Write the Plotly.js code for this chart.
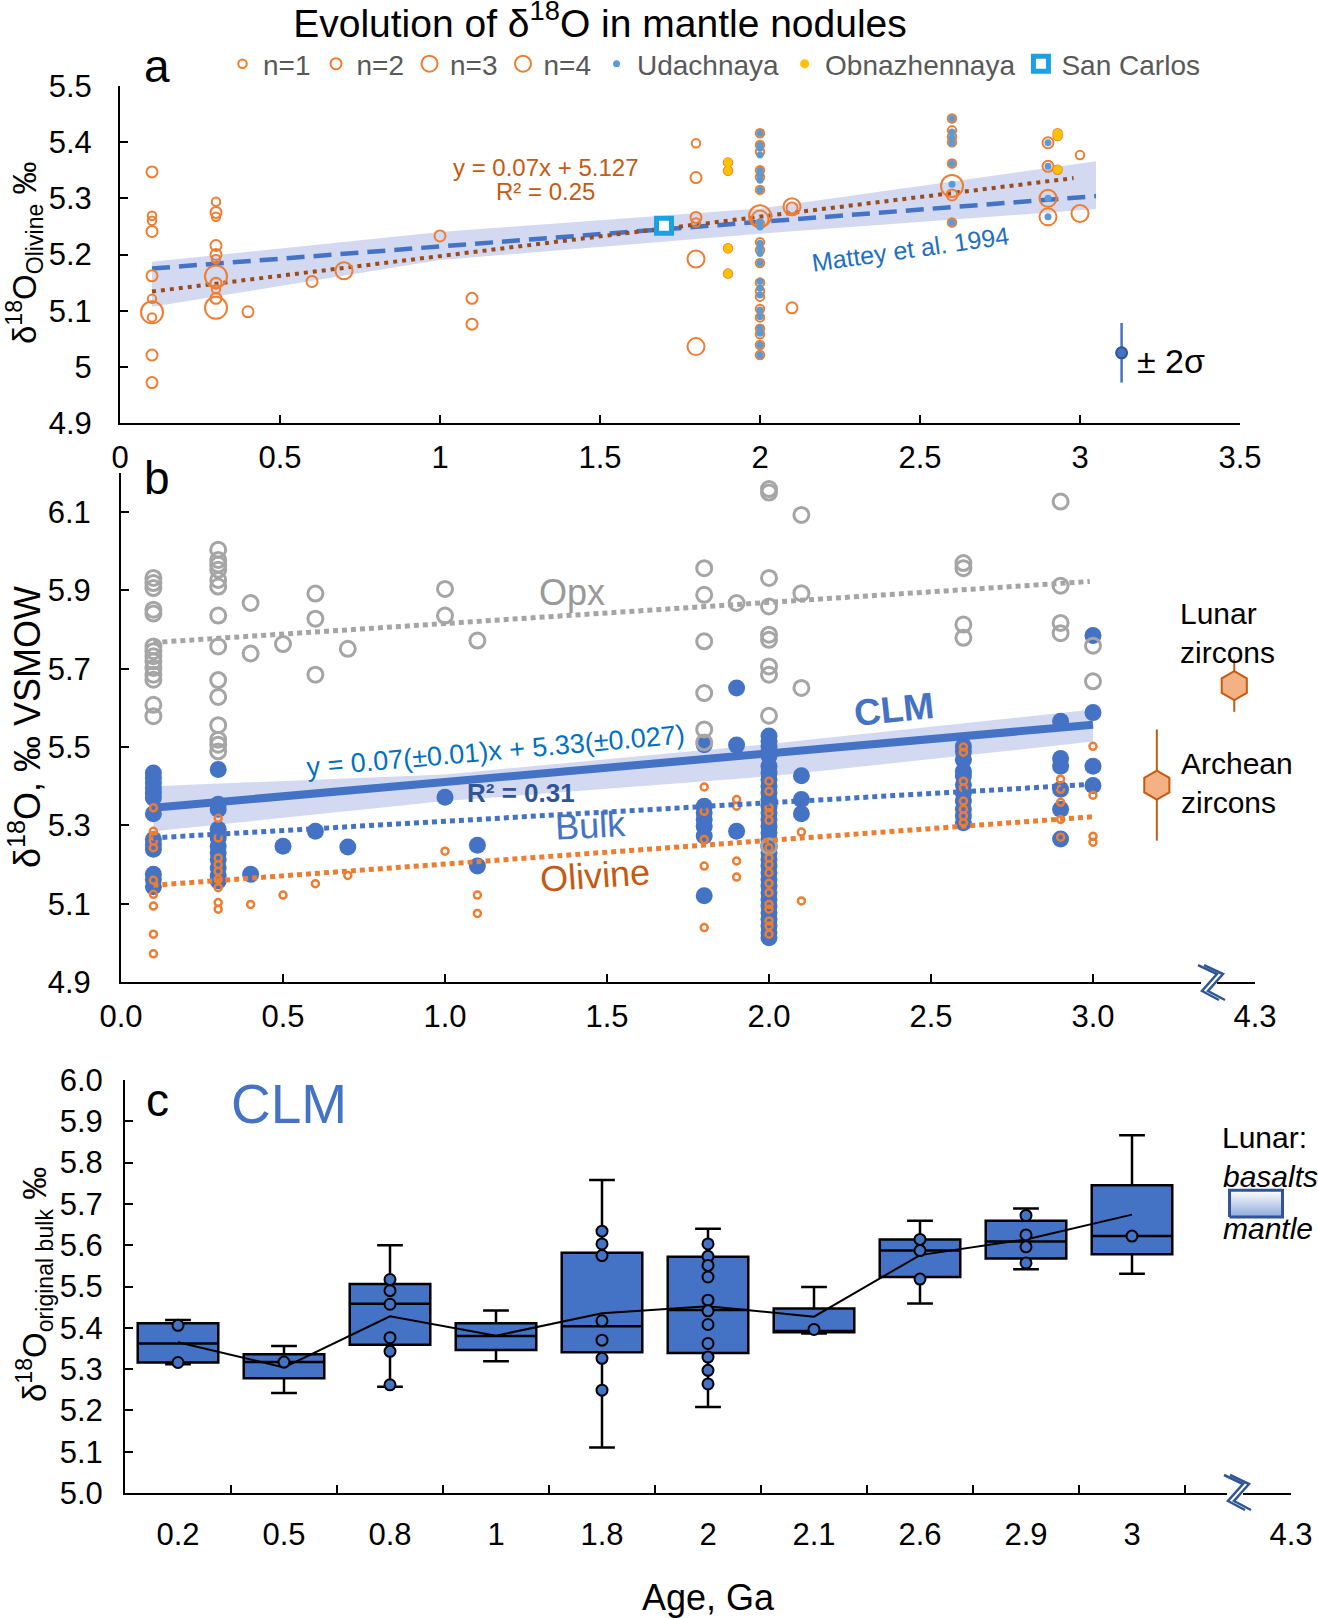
<!DOCTYPE html>
<html><head><meta charset="utf-8">
<script src="https://cdn.plot.ly/plotly-3.0.1.min.js"></script>
<style>html,body{margin:0;padding:0;background:#fff}</style>
</head><body><div id="chart" style="width:1318px;height:1618px"></div>
<script>
// ---------------- DATA ----------------
// Panel a: olivine d18O vs age (Ga); marker size by number of analyses n
const olivAAges = [0.1,0.3,0.4,0.6,0.7,1.0,1.1,1.8,1.9,2.0,2.1,2.6,2.9,2.93,3.0];
const olivAValues = [
  [5.347,5.269,5.260,5.241,5.162,5.121,5.097,5.088,5.021,4.972],
  [5.294,5.275,5.267,5.216,5.200,5.192,5.161,5.149,5.138,5.122,5.105],
  [5.098],[5.152],[5.171],[5.233],[5.122,5.076],
  [5.398,5.337,5.266,5.257,5.192,5.036],
  [5.364,5.349,5.211,5.166],
  [5.416,5.395,5.383,5.350,5.338,5.315,5.268,5.263,5.255,5.222,5.208,5.185,5.150,5.135,5.125,5.103,5.088,5.068,5.058,5.039,5.021],
  [5.285,5.283,5.105],
  [5.442,5.421,5.410,5.400,5.362,5.322,5.306,5.257],
  [5.399,5.357,5.300,5.267],
  [5.416,5.411,5.351],
  [5.377,5.273]
];
const olivACounts = [
  [2,1,1,2,2,1,4,1,2,2],
  [1,2,1,2,2,1,4,2,1,2,4],
  [2],[2],[3],[2],[2,2],
  [1,2,2,1,3,3],
  [1,1,1,1],
  [1,1,1,1,1,1,4,3,1,1,1,1,1,1,1,1,1,1,1,1,1],
  [3,2,2],
  [1,1,1,1,1,4,2,1],
  [2,2,3,3],
  [1,1,1],
  [1,3]
];
const udachAges = [2.0,2.6,2.9];
const udachValues = [
  [5.416,5.395,5.389,5.377,5.350,5.341,5.332,5.315,5.258,5.249,5.220,5.211,5.202,5.185,5.152,5.140,5.128,5.101,5.089,5.069,5.060,5.039,5.021],
  [5.442,5.418,5.408,5.398,5.362,5.325,5.257],
  [5.399,5.357,5.300,5.267]
];
const obnazAges = [1.9,2.93];
const obnazValues = [[5.364,5.349,5.211,5.166],[5.416,5.411,5.351]];
const sanCarlosAge = [1.7];
const sanCarlosValue = [5.251];
const matteyAge = [0.1,3.05];
const matteyValue = [5.175,5.304];
const trendAAge = [0.1,2.98];
const trendAValue = [5.134,5.336];
const bandAAge = [0.1,1.0,2.0,3.05];
const bandALow = [5.107,5.190,5.237,5.281];
const bandAHigh = [5.187,5.240,5.282,5.366];
const sigmaAge = [3.13];
const sigmaValue = [5.025];
const sigmaErr = [0.053];

// Panel b: d18O (VSMOW) of Opx, bulk (CLM) and olivine
const opxAges = [0.1,0.3,0.4,0.5,0.6,0.7,1.0,1.1,1.8,1.9,2.0,2.1,2.6,2.9,3.0];
const opxValues = [
  [5.932,5.919,5.906,5.851,5.841,5.757,5.745,5.732,5.719,5.702,5.685,5.672,5.608,5.579],
  [6.004,5.978,5.966,5.953,5.927,5.910,5.836,5.757,5.671,5.628,5.556,5.519,5.506,5.489],
  [5.868,5.739],[5.763],[5.892,5.828,5.685],[5.751],[5.904,5.836],[5.772],
  [5.957,5.889,5.770,5.638,5.545,5.512],
  [5.868],
  [6.159,6.150,5.932,5.859,5.787,5.774,5.706,5.685,5.580,5.247],
  [6.093,5.893,5.651],
  [5.970,5.957,5.813,5.779],
  [6.127,5.912,5.817,5.791],
  [5.759,5.668]
];
const bulkAges = [0.1,0.3,0.4,0.5,0.6,0.7,1.0,1.1,1.8,1.9,2.0,2.1,2.6,2.9,3.0];
const bulkValues = [
  [5.434,5.421,5.409,5.396,5.383,5.370,5.330,5.264,5.251,5.239,5.175,5.162,5.143],
  [5.443,5.354,5.341,5.290,5.268,5.247,5.230,5.213,5.192,5.171,5.158],
  [5.175],[5.247],[5.285],[5.245],[5.372],[5.249,5.196],
  [5.506,5.349,5.332,5.315,5.298,5.273,5.120],
  [5.651,5.505,5.285],
  [5.528,5.515,5.502,5.489,5.477,5.451,5.434,5.417,5.400,5.383,5.366,5.349,5.332,5.315,5.298,5.281,5.264,5.247,5.230,5.213,5.196,5.179,5.162,5.145,5.128,5.111,5.094,5.077,5.060,5.043,5.026,5.013],
  [5.427,5.366,5.330],
  [5.502,5.489,5.468,5.438,5.426,5.404,5.383,5.362,5.341,5.324,5.307],
  [5.566,5.471,5.451,5.392,5.341,5.265],
  [5.785,5.588,5.451,5.402]
];
const olivBAges = [0.1,0.3,0.4,0.5,0.6,0.7,1.0,1.1,1.8,1.9,2.0,2.1,2.6,2.9,3.0];
const olivBValues = [
  [5.345,5.285,5.273,5.260,5.243,5.160,5.124,5.094,5.022,4.972],
  [5.318,5.268,5.217,5.200,5.183,5.162,5.141,5.103,5.086],
  [5.098],[5.122],[5.151],[5.172],[5.234],[5.122,5.075],
  [5.398,5.336,5.264,5.196,5.039],
  [5.366,5.349,5.209,5.168],
  [5.413,5.387,5.345,5.332,5.313,5.243,5.217,5.200,5.179,5.152,5.128,5.098,5.086,5.056,5.043,5.022],
  [5.283,5.107],
  [5.500,5.487,5.413,5.396,5.362,5.341,5.324,5.307],
  [5.418,5.392,5.359,5.315,5.270],
  [5.502,5.377,5.272,5.257]
];
const opxTrendAge = [0.1,2.99];
const opxTrendValue = [5.767,5.923];
const bulkTrendAge = [0.1,3.0];
const bulkTrendValue = [5.268,5.405];
const olivTrendAge = [0.1,3.0];
const olivTrendValue = [5.147,5.322];
const clmAge = [0.1,3.0];
const clmValue = [5.345,5.557];
const bandBAge = [0.1,1.0,2.0,3.0];
const bandBLow = [5.285,5.362,5.425,5.514];
const bandBHigh = [5.400,5.430,5.508,5.596];
const zirconAge = [3.436,3.197];
const zirconValue = [5.657,5.403];
const zirconErr = [0.067,0.142];

// Panel c: CLM box statistics by age group
const ageLabels = ['0.2','0.5','0.8','1','1.8','2','2.1','2.6','2.9','3'];
const breakLabel = '4.3';
const clmQ1 = [5.316,5.278,5.359,5.346,5.341,5.339,5.389,5.523,5.568,5.578];
const clmMedian = [5.362,5.317,5.458,5.380,5.404,5.443,5.392,5.587,5.609,5.622];
const clmQ3 = [5.411,5.336,5.506,5.411,5.582,5.572,5.447,5.614,5.659,5.745];
const clmLow = [5.312,5.242,5.257,5.319,5.110,5.208,5.386,5.459,5.542,5.531];
const clmHigh = [5.419,5.356,5.600,5.442,5.758,5.640,5.499,5.659,5.689,5.866];
const clmMean = [5.365,5.304,5.428,5.381,5.435,5.452,5.427,5.576,5.614,5.674];
const clmPoints = [
  [5.406,5.316],[5.317],[5.517,5.490,5.457,5.376,5.343,5.262],[],
  [5.634,5.603,5.575,5.417,5.370,5.326,5.249],
  [5.603,5.573,5.551,5.523,5.467,5.441,5.408,5.362,5.329,5.297,5.264],
  [5.396],[5.614,5.587,5.518],[5.672,5.625,5.596,5.557],[5.622]
];
const lunarMantleRange = [5.668,5.733];

// ---------------- HELPERS ----------------
const FONT = 'Liberation Sans, Arial, Helvetica, sans-serif';
const W = 1318, H = 1618;
const fx = p => p / W, fy = p => 1 - p / H;
function flat(ages, groups, extra) {
  const x = [], y = [], e = [];
  ages.forEach((a, i) => groups[i].forEach((v, j) => { x.push(a); y.push(v); if (extra) e.push(extra[i][j]); }));
  return {x, y, e};
}
function band(xs, lo, hi) {
  return {x: xs.concat(xs.slice().reverse()), y: hi.concat(lo.slice().reverse())};
}

const ORANGE = '#ed7d31', BLUE = '#4472c4', GRAY = '#a5a5a5';
const traces = [];

// ---------------- PANEL A ----------------
const bA = band(bandAAge, bandALow, bandAHigh);
traces.push({type:'scatter', mode:'lines', x:bA.x, y:bA.y, fill:'toself', fillcolor:'rgba(150,165,222,0.42)', line:{width:0}, showlegend:false, hoverinfo:'skip', xaxis:'x', yaxis:'y'});
traces.push({type:'scatter', mode:'lines', x:matteyAge, y:matteyValue, line:{color:BLUE, width:4.5, dash:'18px,9px'}, showlegend:false, xaxis:'x', yaxis:'y'});
traces.push({type:'scatter', mode:'lines', x:trendAAge, y:trendAValue, line:{color:'#9c4a1a', width:4, dash:'4px,5px'}, showlegend:false, xaxis:'x', yaxis:'y'});
const oA = flat(olivAAges, olivAValues, olivACounts);
const nSizes = {1:8.5, 2:11, 3:17, 4:22};
[1,2,3,4].forEach(n => {
  const xs = [], ys = [];
  oA.e.forEach((c, i) => { if (c === n) { xs.push(oA.x[i]); ys.push(oA.y[i]); } });
  traces.push({type:'scatter', mode:'markers', name:'n=' + n, x:xs, y:ys,
    marker:{symbol:'circle-open', size:nSizes[n], color:ORANGE, line:{width:2, color:ORANGE}}, xaxis:'x', yaxis:'y'});
});
const ud = flat(udachAges, udachValues);
traces.push({type:'scatter', mode:'markers', name:'Udachnaya', x:ud.x, y:ud.y, marker:{size:7, color:'#5b9bd5'}, xaxis:'x', yaxis:'y'});
const ob = flat(obnazAges, obnazValues);
traces.push({type:'scatter', mode:'markers', name:'Obnazhennaya', x:ob.x, y:ob.y, marker:{size:9, color:'#ffc000'}, xaxis:'x', yaxis:'y'});
traces.push({type:'scatter', mode:'markers', name:'San Carlos', x:sanCarlosAge, y:sanCarlosValue, marker:{symbol:'square', size:15, color:'#ffffff', line:{color:'#1ba1e2', width:5}}, xaxis:'x', yaxis:'y'});
traces.push({type:'scatter', mode:'markers', x:sigmaAge, y:sigmaValue, showlegend:false,
  marker:{size:11, color:BLUE, line:{color:'#2f5597', width:2}},
  error_y:{type:'data', array:sigmaErr, visible:true, color:BLUE, thickness:2.5, width:0}, xaxis:'x', yaxis:'y'});

// ---------------- PANEL B ----------------
const bB = band(bandBAge, bandBLow, bandBHigh);
traces.push({type:'scatter', mode:'lines', x:bB.x, y:bB.y, fill:'toself', fillcolor:'rgba(150,165,222,0.42)', line:{width:0}, showlegend:false, hoverinfo:'skip', xaxis:'x2', yaxis:'y2'});
traces.push({type:'scatter', mode:'lines', x:clmAge, y:clmValue, line:{color:BLUE, width:8}, showlegend:false, xaxis:'x2', yaxis:'y2'});
const bk = flat(bulkAges, bulkValues);
traces.push({type:'scatter', mode:'markers', x:bk.x, y:bk.y, marker:{size:17, color:BLUE}, showlegend:false, xaxis:'x2', yaxis:'y2'});
const op = flat(opxAges, opxValues);
traces.push({type:'scatter', mode:'markers', x:op.x, y:op.y, marker:{symbol:'circle-open', size:15, color:GRAY, line:{width:3, color:GRAY}}, showlegend:false, xaxis:'x2', yaxis:'y2'});
const oB = flat(olivBAges, olivBValues);
traces.push({type:'scatter', mode:'markers', x:oB.x, y:oB.y, marker:{symbol:'circle-open', size:7, color:ORANGE, line:{width:2.5, color:ORANGE}}, showlegend:false, xaxis:'x2', yaxis:'y2'});
traces.push({type:'scatter', mode:'lines', x:opxTrendAge, y:opxTrendValue, line:{color:GRAY, width:5, dash:'5px,4px'}, showlegend:false, xaxis:'x2', yaxis:'y2'});
traces.push({type:'scatter', mode:'lines', x:bulkTrendAge, y:bulkTrendValue, line:{color:BLUE, width:5, dash:'5px,4px'}, showlegend:false, xaxis:'x2', yaxis:'y2'});
traces.push({type:'scatter', mode:'lines', x:olivTrendAge, y:olivTrendValue, line:{color:ORANGE, width:5, dash:'5px,4px'}, showlegend:false, xaxis:'x2', yaxis:'y2'});
traces.push({type:'scatter', mode:'markers', x:zirconAge, y:zirconValue, showlegend:false,
  marker:{symbol:'hexagon', size:29, color:'#f4b183', line:{color:'#c55a11', width:2}},
  error_y:{type:'data', array:zirconErr, visible:true, color:'#c55a11', thickness:2, width:0}, xaxis:'x2', yaxis:'y2'});

// ---------------- PANEL C ----------------
const catIdx = ageLabels.map((_, i) => i);
traces.push({type:'box', x:catIdx, q1:clmQ1, median:clmMedian, q3:clmQ3, lowerfence:clmLow, upperfence:clmHigh,
  boxpoints:false, width:0.76, whiskerwidth:0.32, fillcolor:BLUE, line:{color:'#000', width:2.5}, showlegend:false, xaxis:'x3', yaxis:'y3'});
traces.push({type:'scatter', mode:'lines', x:[9.92,10.42,10.42,9.92,9.92],
  y:[lunarMantleRange[0],lunarMantleRange[0],lunarMantleRange[1],lunarMantleRange[1],lunarMantleRange[0]],
  fill:'toself', fillcolor:'#c5d2ee', fillgradient:{type:'vertical', colorscale:[[0,'#8eaadb'],[1,'#ffffff']]},
  line:{color:'#2f5597', width:3}, showlegend:false, xaxis:'x3', yaxis:'y3'});
traces.push({type:'scatter', mode:'lines', x:catIdx, y:clmMean, line:{color:'#000', width:2}, showlegend:false, xaxis:'x4', yaxis:'y3'});
const cp = flat(catIdx, clmPoints);
traces.push({type:'scatter', mode:'markers', x:cp.x, y:cp.y, marker:{size:11, color:BLUE, line:{color:'#000', width:2}}, showlegend:false, xaxis:'x4', yaxis:'y3'});

// ---------------- LAYOUT ----------------
const axBase = {showgrid:false, zeroline:false, showline:true, linecolor:'#000', linewidth:2,
  ticks:'inside', ticklen:8, tickwidth:2, tickcolor:'#000', tickfont:{family:FONT, size:31, color:'#000'}, fixedrange:true};

function ann(text, x, y, size, opts) {
  return Object.assign({text:text, x:fx(x), y:fy(y), xref:'paper', yref:'paper', showarrow:false,
    xanchor:'center', yanchor:'middle', font:{family:FONT, size:size, color:(opts && opts.color) || '#000'}}, opts || {});
}
function zig(cx, cy, dx) {
  const pts = [[-10,-18],[9,-9],[-6,8],[11,17]];
  return 'M ' + pts.map(p => fx(cx + p[0] + dx).toFixed(5) + ',' + fy(cy + p[1]).toFixed(5)).join(' L ');
}
function breakShapes(cx, cy) {
  return [
    {type:'rect', xref:'paper', yref:'paper', x0:fx(cx-7), x1:fx(cx+9), y0:fy(cy+3), y1:fy(cy-3), fillcolor:'#fff', line:{width:0}, layer:'above'},
    {type:'path', xref:'paper', yref:'paper', path:zig(cx, cy, 0), line:{color:'#2f5597', width:2.5}, layer:'above'},
    {type:'path', xref:'paper', yref:'paper', path:zig(cx, cy, 6), line:{color:'#2f5597', width:2.5}, layer:'above'}
  ];
}

const layout = {
  width:W, height:H, autosize:false,
  margin:{l:0, r:0, t:0, b:0},
  paper_bgcolor:'#fff', plot_bgcolor:'rgba(0,0,0,0)',
  font:{family:FONT, color:'#000'},
  title:{text:'Evolution of δ<sup>18</sup>O in mantle nodules', font:{family:FONT, size:39, color:'#000'},
    x:fx(600), xanchor:'center', y:fy(23), yanchor:'middle', xref:'paper', yref:'container'},
  showlegend:true,
  legend:{orientation:'h', x:fx(222), y:fy(64), xanchor:'left', yanchor:'middle', itemwidth:31,
    font:{family:FONT, size:28, color:'#595959'}, bgcolor:'rgba(0,0,0,0)', tracegroupgap:0},
  xaxis:Object.assign({}, axBase, {domain:[fx(120), fx(1240)], range:[0,3.5], anchor:'y',
    tickvals:[0,0.5,1,1.5,2,2.5,3,3.5], ticktext:['0','0.5','1','1.5','2','2.5','3','3.5'], ticklabelstandoff:6}),
  yaxis:Object.assign({}, axBase, {domain:[fy(423), fy(86)], range:[4.9,5.5], anchor:'x',
    tickvals:[4.9,5.0,5.1,5.2,5.3,5.4,5.5], ticktext:['4.9','5','5.1','5.2','5.3','5.4','5.5'], ticklabelstandoff:20}),
  xaxis2:Object.assign({}, axBase, {domain:[fx(121), fx(1255)], range:[0,3.5], anchor:'y2',
    tickvals:[0,0.5,1,1.5,2,2.5,3,3.5], ticktext:['0.0','0.5','1.0','1.5','2.0','2.5','3.0', breakLabel], ticklabelstandoff:6}),
  yaxis2:Object.assign({}, axBase, {domain:[fy(982), fy(473)], range:[4.9,6.2], anchor:'x2',
    tickvals:[4.9,5.1,5.3,5.5,5.7,5.9,6.1], tickformat:'.1f', ticklabelstandoff:22}),
  xaxis3:Object.assign({}, axBase, {domain:[fx(125), fx(1291)], range:[-0.5,10.5], anchor:'y3',
    tickvals:[0.5,1.5,2.5,3.5,4.5,5.5,6.5,7.5,8.5,9.5,10.5], showticklabels:false}),
  xaxis4:Object.assign({}, axBase, {overlaying:'x3', range:[-0.5,10.5], anchor:'y3', showline:false, ticks:'',
    tickvals:catIdx.concat([10.5]), ticktext:ageLabels.concat([breakLabel]), ticklabelstandoff:20}),
  yaxis3:Object.assign({}, axBase, {domain:[fy(1493), fy(1080)], range:[5.0,6.0], anchor:'x3',
    tickvals:[5.0,5.1,5.2,5.3,5.4,5.5,5.6,5.7,5.8,5.9,6.0], tickformat:'.1f', ticklabelstandoff:14}),
  shapes:[].concat(breakShapes(1208, 983), breakShapes(1234, 1493)),
  annotations:[
    ann('a', 157, 66, 46),
    ann('b', 157, 478, 46),
    ann('c', 157, 1100, 46),
    ann('y = 0.07x + 5.127', 545, 167, 24, {color:'#c55a11'}),
    ann('R² = 0.25', 545, 192, 24, {color:'#c55a11'}),
    ann('Mattey et al. 1994', 910, 249, 25, {color:'#1f6fbf', textangle:-8}),
    ann('± 2σ', 1135, 361, 34, {xanchor:'left'}),
    ann('Opx', 572, 592, 36, {color:'#999999'}),
    ann('<b>CLM</b>', 894, 710, 37, {color:BLUE, textangle:-6}),
    ann('y = 0.07(±0.01)x + 5.33(±0.027)', 495, 751, 27, {color:'#0070c0', textangle:-5}),
    ann('<b>R² = 0.31</b>', 521, 793, 26, {color:'#2f5597'}),
    ann('Bulk', 590, 826, 36, {color:BLUE, textangle:-3}),
    ann('Olivine', 595, 875, 36, {color:'#c55a11', textangle:-4}),
    ann('Lunar<br>zircons', 1178, 633, 30, {xanchor:'left', align:'left'}),
    ann('Archean<br>zircons', 1179, 783, 30, {xanchor:'left', align:'left'}),
    ann('CLM', 289, 1104, 55, {color:BLUE}),
    ann('Lunar:', 1220, 1137, 30, {xanchor:'left'}),
    ann('<i>basalts</i>', 1221, 1176, 30, {xanchor:'left'}),
    ann('<i>mantle</i>', 1221, 1228, 30, {xanchor:'left'}),
    ann('δ<sup>18</sup>O<sub>Olivine</sub> ‰', 25, 253, 33, {textangle:-90}),
    ann('δ<sup>18</sup>O, ‰ VSMOW', 25, 727, 36, {textangle:-90}),
    ann('δ<sup>18</sup>O<sub>original bulk</sub> ‰', 34, 1285, 33, {textangle:-90}),
    ann('Age, Ga', 708, 1597, 36)
  ]
};

Plotly.newPlot('chart', traces, layout, {displayModeBar:false, staticPlot:true});
</script></body></html>
